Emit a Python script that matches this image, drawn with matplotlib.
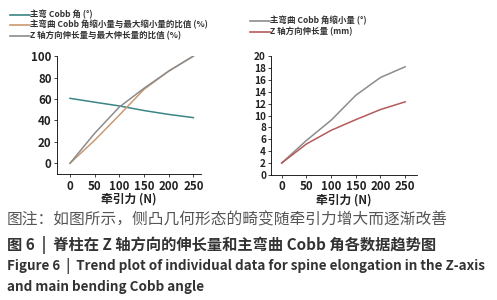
import matplotlib
matplotlib.use("Agg")
import matplotlib.pyplot as plt

plt.rcParams['font.family'] = ['Noto Sans CJK SC', 'DejaVu Sans']

# traction force (N)
force = [0, 50, 100, 150, 200, 250]

# left panel
cobb_angle = [60.6, 57.0, 53.5, 49.2, 45.6, 42.6]
cobb_ratio = [0, 21.5, 45.0, 69.0, 86.0, 100]
z_ratio = [0, 28.0, 52.5, 70.0, 86.0, 100]

# right panel
cobb_reduction = [2.0, 5.8, 9.2, 13.4, 16.4, 18.2]
z_elongation = [2.0, 5.2, 7.5, 9.3, 11.0, 12.3]

left_labels = ["主弯 Cobb 角 (°)", "主弯曲 Cobb 角缩小量与最大缩小量的比值 (%)",
               "Z 轴方向伸长量与最大伸长量的比值 (%)"]
right_labels = ["主弯曲 Cobb 角缩小量 (°)", "Z 轴方向伸长量 (mm)"]

teal = "#3a8585"
orange = "#c99a72"
gray = "#8c8c8c"
red = "#b55a5a"

fig = plt.figure(figsize=(4.97, 3.0), dpi=100)

ax1 = fig.add_axes([0.115, 0.42, 0.29, 0.393])
ax1.plot(force, cobb_angle, color=teal, lw=1.1)
ax1.plot(force, cobb_ratio, color=orange, lw=1.1)
ax1.plot(force, z_ratio, color=gray, lw=1.1)
ax1.set_xlim(-26, 266)
ax1.set_ylim(-10, 100)
ax1.set_yticks(range(0, 101, 20))
ax1.set_xticks(force)

ax2 = fig.add_axes([0.545, 0.417, 0.294, 0.396])
ax2.plot(force, cobb_reduction, color=gray, lw=1.1)
ax2.plot(force, z_elongation, color=red, lw=1.1)
ax2.set_xlim(-22, 274)
ax2.set_ylim(0, 20)
ax2.set_yticks(range(0, 21, 2))
ax2.set_xticks(force)

for ax in (ax1, ax2):
    for s in ("top", "right"):
        ax.spines[s].set_visible(False)
    ax.spines["left"].set_linewidth(0.6)
    ax.spines["bottom"].set_linewidth(0.6)
    ax.tick_params(labelsize=8.3, width=0.6, length=2.5, pad=1.5, colors="#222222")
    for lab in ax.get_xticklabels() + ax.get_yticklabels():
        lab.set_fontweight("bold")
    ax.set_xlabel("牵引力 (N)", fontsize=8.5, labelpad=0, fontweight="bold", color="#222222")

ax2.tick_params(axis="y", labelsize=7.2, pad=1)

# legends drawn as text rows at the top
def legend_rows(x0, ys, colors, labels):
    for y, c, t in zip(ys, colors, labels):
        fig.add_artist(plt.Line2D([x0 / 497, (x0 + 20) / 497], [1 - y / 300] * 2,
                                  color=c, lw=1.2))
        fig.text((x0 + 20) / 497, 1 - y / 300, t, fontsize=6.1, va="center",
                 ha="left", color="#333333", fontweight="bold")

legend_rows(10, [15, 25, 36], [teal, orange, gray], left_labels)
legend_rows(250, [21, 32], [gray, red], right_labels)

fig.text(7 / 497, 1 - 220 / 300, "图注：如图所示，侧凸几何形态的畸变随牵引力增大而逐渐改善",
         fontsize=11.3, color="#555555", va="center")
fig.text(7 / 497, 1 - 245 / 300, "图 6  |  脊柱在 Z 轴方向的伸长量和主弯曲 Cobb 角各数据趋势图",
         fontsize=11.0, color="#333333", va="center", fontweight="bold")
fig.text(7 / 497, 1 - 266 / 300,
         "Figure 6  |  Trend plot of individual data for spine elongation in the Z-axis",
         fontsize=9.7, color="#333333", va="center", fontweight="bold")
fig.text(7 / 497, 1 - 287 / 300, "and main bending Cobb angle",
         fontsize=9.7, color="#333333", va="center", fontweight="bold")

fig.savefig("out.png", dpi=100)
